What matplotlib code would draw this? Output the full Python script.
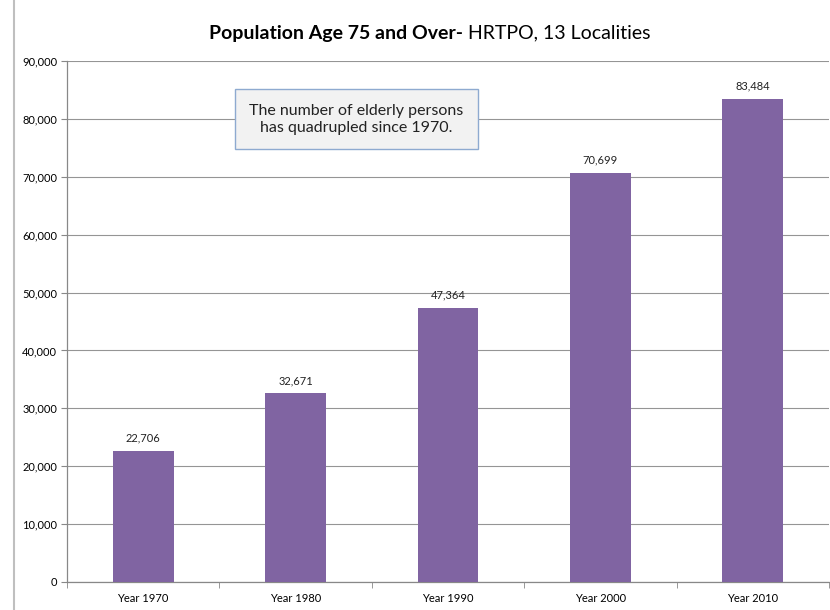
import matplotlib
matplotlib.use("Agg")
import matplotlib.pyplot as plt
from matplotlib.ticker import FuncFormatter, MultipleLocator
from matplotlib.lines import Line2D

categories = ["Year 1970", "Year 1980", "Year 1990", "Year 2000", "Year 2010"]
values = [22706, 32671, 47364, 70699, 83484]
bar_color = "#8064A2"

plt.rcParams['font.family'] = ['Lato', 'DejaVu Sans']

fig = plt.figure(figsize=(8.3, 6.1), dpi=100)
ax = fig.add_axes([67/830, 1-582/610, 762/830, (582-61)/610])

x = list(range(len(categories)))
bars = ax.bar(x, values, width=0.4, color=bar_color, zorder=3)
for xi, v in zip(x, values):
    ax.text(xi, v + 1200, f"{v:,}", ha="center", va="bottom", fontsize=8, color="#222222")

ax.set_xlim(-0.5, len(categories) - 0.5)
ax.set_ylim(0, 90000)
ax.yaxis.set_major_locator(MultipleLocator(10000))
ax.yaxis.set_major_formatter(FuncFormatter(lambda v, p: f"{int(v):,}"))
ax.set_xticks(x)
ax.set_xticklabels(categories, fontsize=8)
ax.set_xticks([i + 0.5 for i in range(-1, len(categories))], minor=True)
ax.tick_params(axis="x", which="major", length=0, pad=8)
ax.tick_params(axis="x", which="minor", length=4, color="#888888", direction="out")
ax.tick_params(axis="y", labelsize=8, length=4, color="#888888", pad=3)
ax.grid(axis="y", color="#959595", linewidth=0.8, zorder=0)
for s in ["top", "right"]:
    ax.spines[s].set_visible(False)
for s in ["left", "bottom"]:
    ax.spines[s].set_color("#888888")
    ax.spines[s].set_linewidth(0.9)

ax.text(1.4, 79900, "The number of elderly persons\nhas quadrupled since 1970.",
        ha="center", va="center", fontsize=11.5, color="#222222", linespacing=1.3, zorder=5,
        bbox=dict(boxstyle="square,pad=0.9", facecolor="#F2F2F2", edgecolor="#8EAAD0", linewidth=1.0))

# Title: bold part + regular part
ty = 1 - 33/610
t1 = fig.text(0.5, ty, "Population Age 75 and Over-", fontsize=14, fontweight="bold",
              ha="right", va="center")
t2 = fig.text(0.5, ty, " HRTPO, 13 Localities", fontsize=14, ha="left", va="center")
fig.canvas.draw()
r = fig.canvas.get_renderer()
bb1 = t1.get_window_extent(r)
bb2 = t2.get_window_extent(r)
total = bb1.width + bb2.width
center = 430
left = center - total/2
t1.set_position(((left + bb1.width)/830, ty))
t2.set_position(((left + bb1.width)/830, ty))

fig.add_artist(Line2D([14/830, 14/830], [0, 1], color="#bfbfbf", linewidth=1.5))

fig.savefig("out.png", dpi=100)
